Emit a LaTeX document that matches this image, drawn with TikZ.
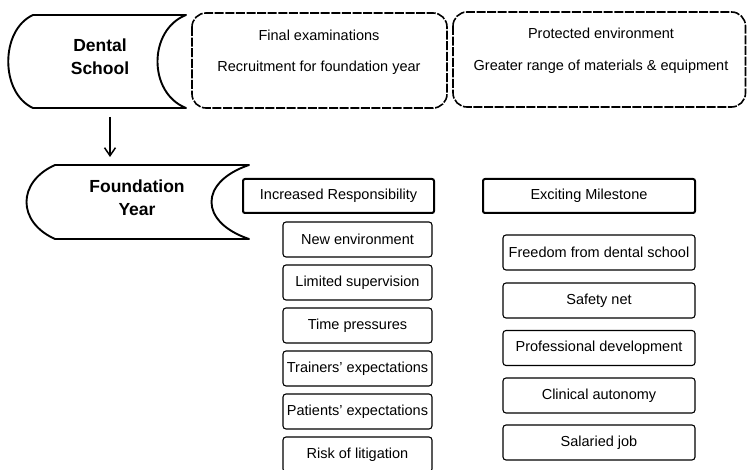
\documentclass[tikz,border=0pt]{standalone}
\usepackage{fontspec}
\setmainfont{Liberation Sans}
\usetikzlibrary{arrows.meta}
\begin{document}
\begin{tikzpicture}[x=1pt,y=-1pt,
  scroll/.style={line width=1.9pt, line join=round},
  topbox/.style={draw, line width=1.6pt, rounded corners=14pt, dash pattern=on 9pt off 1.6pt},
  headbox/.style={draw, line width=2pt, rounded corners=2pt, minimum height=34pt, inner sep=0pt, font=\fontsize{14.5}{17}\selectfont},
  subbox/.style={draw, line width=1.1pt, rounded corners=3pt, minimum height=35pt, inner sep=0pt, font=\fontsize{14.5}{17}\selectfont},
  lbl/.style={inner sep=0pt, font=\fontsize{14.5}{17}\selectfont},
  big/.style={inner sep=0pt, font=\fontsize{17.5}{20}\bfseries\selectfont, align=center}]
\useasboundingbox (0,0) rectangle (747,470);

% Dental School scroll
\draw[scroll] (33,15) -- (186,15)
  .. controls (148,30) and (148,93) .. (186,108) -- (33,108)
  .. controls (0,93) and (0,30) .. cycle;
\node[big] (ds) at (100,57) {Dental\\[3pt]School};

% Foundation Year scroll
\draw[scroll] (55,165) -- (249,165)
  .. controls (199,182) and (199,222) .. (249,239) -- (55,239)
  .. controls (17,222) and (17,182) .. cycle;
\node[big] (fy) at (137,198) {Foundation\\[3pt]Year};

% arrow
\coordinate (a1) at (110,117);
\coordinate (a2) at (110,157);
\draw[line width=1.5pt, -{Straight Barb[length=8pt,width=11pt]}] (a1) -- (a2);

% top boxes
\draw[topbox] (192,13) rectangle (447,108);
\node[lbl] (t1a) at (319,35) {Final examinations};
\node[lbl] (t1b) at (319,68) {Recruitment for foundation year};
\draw[topbox] (453,12) rectangle (745.5,107);
\node[lbl] (t2a) at (601,33) {Protected environment};
\node[lbl] (t2b) at (601,67) {Greater range of materials \& equipment};

% left column
\node[headbox, minimum width=191pt] (ir) at (338.5,196) {Increased Responsibility};
\foreach \t [count=\i] in {New environment, Limited supervision, Time pressures, Trainers' expectations, Patients' expectations, Risk of litigation}
  \node[subbox, minimum width=149pt] (l\i) at (357.5,196.5+43*\i) {\t};

% right column
\node[headbox, minimum width=212pt] (em) at (589,196) {Exciting Milestone};
\node[subbox, minimum width=192pt] (r1) at (599,252.5) {Freedom from dental school};
\node[subbox, minimum width=192pt] (r2) at (599,300.5) {Safety net};
\node[subbox, minimum width=192pt] (r3) at (599,348) {Professional development};
\node[subbox, minimum width=192pt] (r4) at (599,395.5) {Clinical autonomy};
\node[subbox, minimum width=192pt] (r5) at (599,442.5) {Salaried job};
\end{tikzpicture}
\end{document}
